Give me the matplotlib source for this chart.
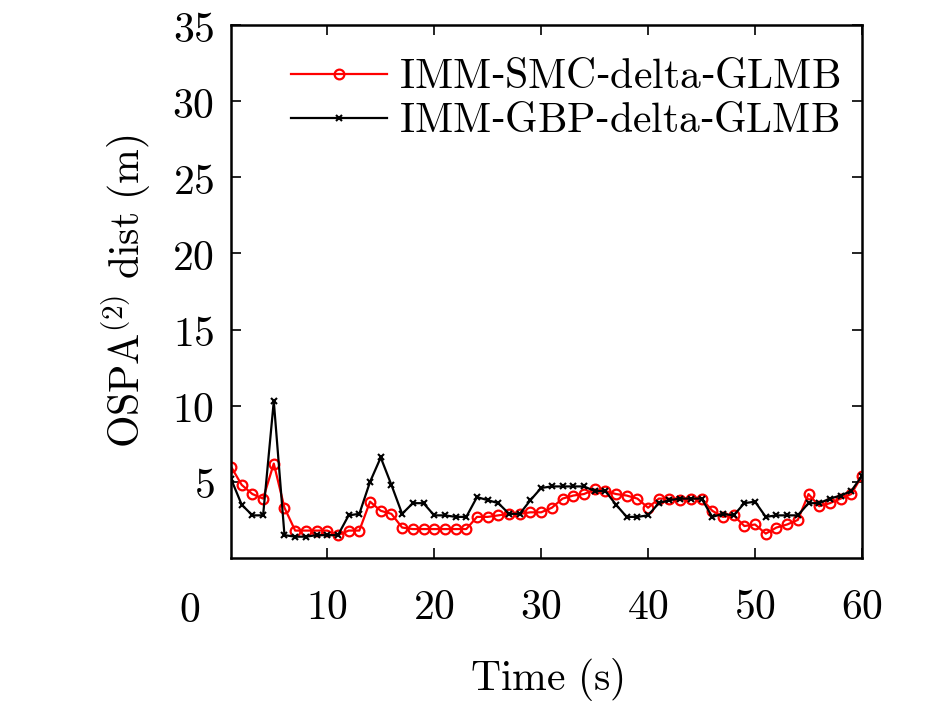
import matplotlib
matplotlib.use("Agg")
import matplotlib.pyplot as plt

plt.rcParams['mathtext.fontset'] = 'cm'
plt.rcParams['font.family'] = ['DejaVu Serif']

t = list(range(1, 61))
smc = [6.0, 4.8, 4.2, 3.9, 6.2, 3.3, 1.8, 1.8, 1.8, 1.8, 1.5, 1.8, 1.8, 3.7, 3.1, 2.9, 2.0, 1.9, 1.9, 1.9,
       1.9, 1.9, 1.9, 2.7, 2.7, 2.8, 2.9, 2.9, 3.0, 3.0, 3.3, 3.9, 4.1, 4.2, 4.5, 4.4, 4.2, 4.1, 3.9, 3.3,
       3.9, 3.9, 3.8, 3.9, 3.9, 3.1, 2.7, 2.8, 2.1, 2.2, 1.6, 2.0, 2.2, 2.5, 4.2, 3.4, 3.6, 3.9, 4.2, 5.4]
gbp = [5.2, 3.5, 2.8, 2.8, 10.3, 1.5, 1.4, 1.4, 1.5, 1.5, 1.5, 2.8, 2.9, 5.0, 6.6, 4.8, 2.9, 3.6, 3.6, 2.8,
       2.8, 2.7, 2.7, 4.0, 3.8, 3.6, 2.9, 2.9, 3.8, 4.6, 4.7, 4.7, 4.7, 4.7, 4.4, 4.4, 3.5, 2.7, 2.7, 2.8,
       3.6, 3.8, 3.9, 3.9, 3.9, 2.7, 2.9, 2.8, 3.6, 3.7, 2.7, 2.8, 2.8, 2.8, 3.6, 3.6, 3.9, 4.1, 4.4, 5.4]
xticks = [10, 20, 30, 40, 50, 60]
yticks = [5, 10, 15, 20, 25, 30, 35]

FS = 30
fig = plt.figure(figsize=(9.45, 7.06), dpi=100)
ax = fig.add_axes([231/945, 1-558/706, (862-231)/945, (558-25)/706])
ax.plot(t, smc, color='#ff0000', marker='o', ms=7, mfc='none', mew=1.6, lw=1.6,
        label=r'$\mathrm{IMM}$-$\mathrm{SMC}$-$\mathrm{delta}$-$\mathrm{GLMB}$')
ax.plot(t, gbp, color='black', marker='x', ms=4.5, mew=1.5, lw=1.6,
        label=r'$\mathrm{IMM}$-$\mathrm{GBP}$-$\mathrm{delta}$-$\mathrm{GLMB}$')
ax.set_xlim(1, 60)
ax.set_ylim(0, 35)
ax.set_xticks(xticks)
ax.set_xticklabels([r'$\mathrm{%d}$' % v for v in xticks], fontsize=FS)
ax.set_yticks(yticks)
ax.set_yticklabels([r'$\mathrm{%d}$' % v for v in yticks], fontsize=FS)
ax.tick_params(direction='in', top=True, right=True, length=7, width=1.2)
ax.tick_params(axis='x', pad=20)
ax.tick_params(axis='y', pad=12)
for s in ax.spines.values():
    s.set_linewidth(1.8)
fig.text(190/945, 1-610/706, r'$\mathrm{0}$', fontsize=FS, ha='center', va='center')
ax.set_xlabel(r'$\mathrm{Time\ (s)}$', fontsize=FS, labelpad=20)
ax.set_ylabel(r'$\mathrm{OSPA}^{(2)}\ \mathrm{dist\ (m)}$', fontsize=FS, labelpad=14)
ax.legend(loc='upper left', bbox_to_anchor=(0.055, 0.99), frameon=False, fontsize=FS,
          handlelength=2.3, handletextpad=0.3, labelspacing=0.05, borderaxespad=0.2)
fig.savefig('out.png', dpi=100)
